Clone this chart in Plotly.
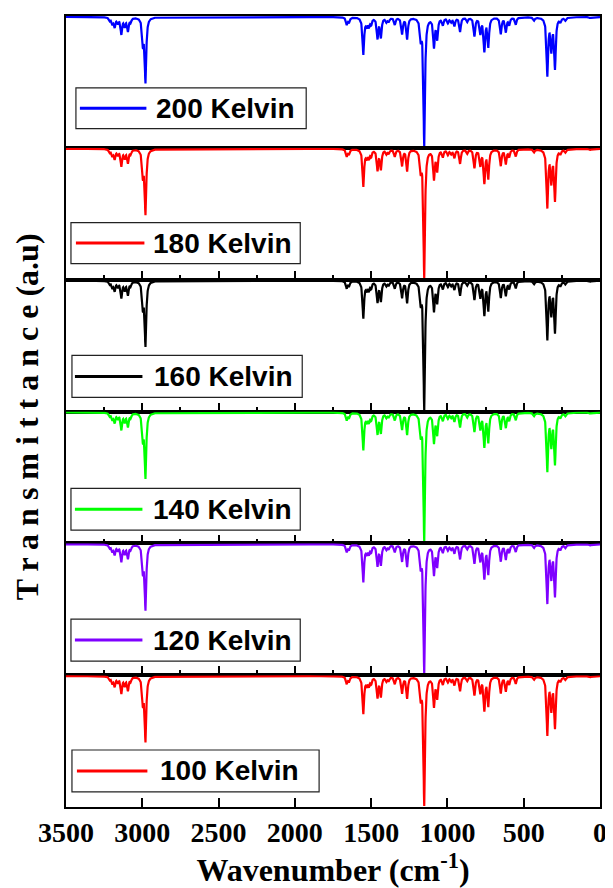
import numpy as np
import plotly.graph_objects as go

# ---------------- data ----------------
temperatures = ["200 Kelvin", "180 Kelvin", "160 Kelvin", "140 Kelvin", "120 Kelvin", "100 Kelvin"]
line_colors = ["#0000FF", "#FF0000", "#000000", "#00FF00", "#7F00FF", "#FF0000"]

# peak table (wavenumber cm-1, relative band depth)
peak_positions = [3213, 3196, 3181, 3160, 3137, 3115, 3094, 3076, 2996, 2979,
                  1660, 1645, 1551, 1530, 1515, 1500, 1458, 1436, 1400, 1385,
                  1345, 1297, 1264, 1175, 1152, 1088, 1067, 1030, 997, 975,
                  954, 917, 870, 823, 784, 758, 732, 650, 617, 595,
                  552, 432, 345, 319, 295, 259, 226, 65]
peak_depths = [3, 6, 9, 5, 16, 8, 13, 4, 24, 62,
               7, 5, 36, 7, 8, 6, 20, 19, 4, 4,
               7, 16, 21, 18, 125, 28, 20, 7, 5, 4,
               8, 14, 4, 18, 15, 32, 28, 16, 14, 7,
               7, 3, 56, 30, 49, 4, 3, 1]
band_hwhm = 6.0

x_ticks = [3500, 3000, 2500, 2000, 1500, 1000, 500, 0]
x_ticktext = ["3500", "3000", "2500", "2000", "1500", "1000", "500", "0"]

wavenumber = np.arange(0, 3501, 1.0)
absorb = np.zeros_like(wavenumber)
for p, d in zip(peak_positions, peak_depths):
    absorb += d * band_hwhm ** 2 / ((wavenumber - p) ** 2 + band_hwhm ** 2)
transmittance = 100.0 - absorb

# ---------------- geometry ----------------
OFF = 8  # page body margin of the browser
W, H = 613 - OFF, 888 - OFF
L, R, T, B = 66, 604, 14, 807  # plot area in window pixels
n = len(temperatures)
panel_h = (B - T) / n

def xp(px):
    return (px - L) / (R - L)

def yp(py):
    return (B - py) / (B - T)

# legend box geometry per panel (pixels): box x0, x1, top offset, bottom offset, line x0, x1, text x
legend_geo = [
    (76, 308, 72, 113, 80, 147, 155),
    (71, 302, 75, 116, 76, 145, 152),
    (72, 304, 76, 118, 75, 143, 153),
    (71, 302, 77, 119, 75, 143, 152),
    (71, 302, 76, 118, 75, 143, 152),
    (72, 321, 75, 117, 77, 148, 159),
]

fig = go.Figure()
tmin = transmittance.min()
span = 100.0 - tmin
pp = span / panel_h

layout = dict(
    width=W, height=H,
    margin=dict(l=L - OFF, r=(W + OFF) - R, t=T - OFF, b=(H + OFF) - B),
    paper_bgcolor="white", plot_bgcolor="white",
    showlegend=False,
)

shapes = []
annotations = []

for i, name in enumerate(temperatures):
    k = i + 1
    fig.add_trace(go.Scatter(
        x=wavenumber, y=transmittance, mode="lines",
        line=dict(color=line_colors[i], width=2.2),
        xaxis=f"x{k}", yaxis=f"y{k}", name=name, hoverinfo="skip",
    ))
    top = 1 - i / n
    bot = 1 - (i + 1) / n
    last = (i == n - 1)
    xa = dict(
        domain=[0, 1], anchor=f"y{k}", range=[3500, 0],
        showline=True, mirror=True, linecolor="black", linewidth=1.5,
        showgrid=False, zeroline=False,
        tickmode="array", tickvals=x_ticks, ticktext=x_ticktext,
        ticks="" if i == 0 else "inside", ticklen=9, tickwidth=1.5, tickcolor="black",
        showticklabels=last,
        tickfont=dict(family="Liberation Serif", size=28, color="black", weight="bold"),
        layer="below traces",
    )
    if 0 < i < n - 1:
        xa["minor"] = dict(ticks="inside", tickmode="linear", tick0=0, dtick=250,
                           ticklen=5, tickwidth=1.5, tickcolor="black")
    if last:
        xa["title"] = dict(text="Wavenumber (cm<sup>-1</sup>)",
                           font=dict(family="Liberation Serif", size=32, color="black", weight="bold"),
                           standoff=4)
    layout[f"xaxis{k}"] = xa
    layout[f"yaxis{k}"] = dict(
        domain=[bot, top], anchor=f"x{k}",
        range=[tmin - 1.0 * pp, 100 + 1.0 * pp],
        showline=True, mirror=True, linecolor="black", linewidth=1.5,
        showgrid=False, zeroline=False, ticks="", showticklabels=False,
        layer="below traces",
    )

    bx0, bx1, to, bo, lx0, lx1, tx = legend_geo[i]
    ptop = T + i * panel_h
    y0 = ptop + to
    y1 = ptop + bo
    ym = (y0 + y1) / 2
    shapes.append(dict(type="rect", xref="paper", yref="paper",
                       x0=xp(bx0), x1=xp(bx1), y0=yp(y1), y1=yp(y0),
                       line=dict(color="#222222", width=1.2), fillcolor="white"))
    shapes.append(dict(type="line", xref="paper", yref="paper",
                       x0=xp(lx0), x1=xp(lx1), y0=yp(ym), y1=yp(ym),
                       line=dict(color=line_colors[i], width=3)))
    annotations.append(dict(xref="paper", yref="paper", x=xp(tx), y=yp(ym),
                            xanchor="left", yanchor="middle", showarrow=False,
                            text=f"<b>{name}</b>",
                            font=dict(family="Liberation Sans", size=28, color="black")))

annotations.append(dict(xref="paper", yref="paper", x=xp(27), y=yp(416),
                        xanchor="center", yanchor="middle", showarrow=False, textangle=-90,
                        text="<b>T r a n s m i t t a n c e (a.u)</b>",
                        font=dict(family="Liberation Serif", size=32, color="black")))

layout["shapes"] = shapes
layout["annotations"] = annotations
fig.update_layout(**layout)
fig.write_html("out.html")
